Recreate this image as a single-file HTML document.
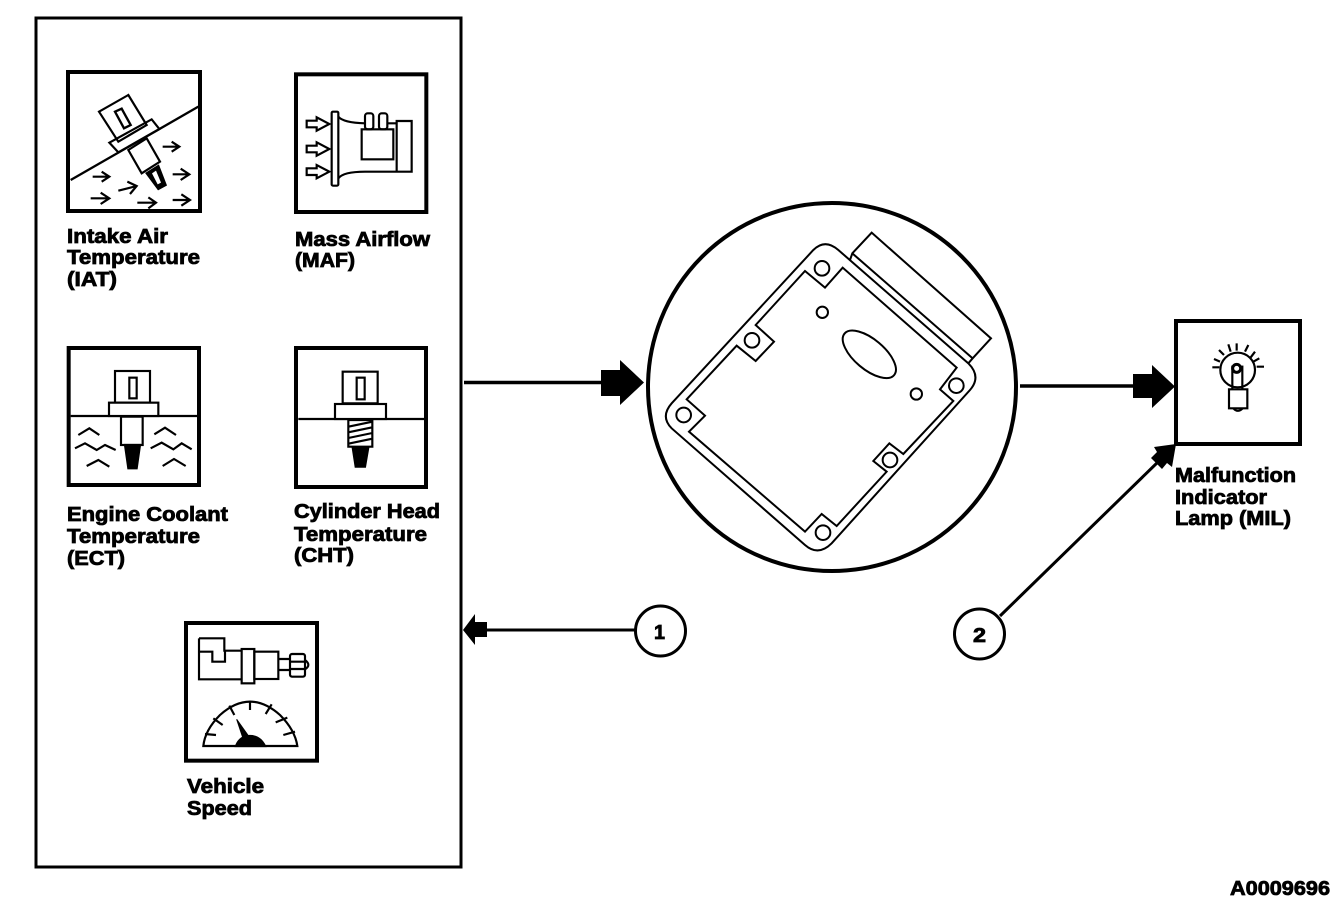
<!DOCTYPE html>
<html><head><meta charset="utf-8"><style>
html,body{margin:0;padding:0;background:#fff}
svg{display:block}
text{font-family:"Liberation Sans",sans-serif;font-weight:bold;font-size:20px;fill:#000;stroke:#000;stroke-width:.8}
</style></head><body>
<svg width="1344" height="918" viewBox="0 0 1344 918" xmlns="http://www.w3.org/2000/svg">
<rect width="1344" height="918" fill="#fff"/>
<rect x="36" y="18" width="425" height="849" fill="none" stroke="#000" stroke-width="3"/>

<!-- IAT + MAF -->
<g transform="translate(50,60) scale(.33333)" fill="none" stroke="#000" stroke-width="6.500">
<rect x="54" y="36" width="396" height="417" stroke-width="12"/>
<path d="M62,360L445,140" stroke-width="7"/>
<path d="M147,155L235,105L290,195L205,245Z M235,270L290,235L330,305L275,340Z M178,248L305,178L328,207L205,277Z" fill="#fff"/>
<path d="M195,155L215,146L242,195L222,205Z" stroke-width="7"/>
<path d="M290,340L325,318L347,375L325,387Z" fill="#000"/>
<path d="M306,340L318,332L333,368L323,373Z" fill="#fff" stroke="none"/>
<path d="M338,260H388M365,245L388,260L365,275M128,350H178M155,335L178,350L155,365M205,392L260,378M232,365L260,378L240,402M122,415H178M152,398L178,415L152,432M262,428H318M295,412L318,428L295,445M368,343H418M392,326L418,343L392,360M368,420H420M394,403L420,420L394,437"/>

<rect x="738" y="43" width="391" height="413" stroke-width="12"/>
<rect x="845" y="155" width="20" height="222" rx="4"/>
<path d="M865,170Q880,188 945,190M1012,190H1040M865,355Q880,335 945,335H1085V183H1040V335"/>
<rect x="935" y="208" width="95" height="90"/>
<rect x="945" y="160" width="25" height="48" rx="8"/>
<rect x="987" y="160" width="25" height="48" rx="8"/>
<path d="M770,182h30v-10l38,20l-38,20v-10h-30zM770,257h30v-10l38,20l-38,20v-10h-30zM770,325h30v-10l38,20l-38,20v-10h-30z"/>
</g>

<!-- ECT + CHT -->
<g transform="translate(50,340) scale(.33333)" fill="none" stroke="#000" stroke-width="6.500">
<rect x="56" y="24" width="391" height="411" stroke-width="12"/>
<path d="M62,228H445"/>
<rect x="195" y="93" width="105" height="95"/>
<rect x="238" y="113" width="22" height="62"/>
<rect x="177" y="188" width="148" height="40" fill="#fff"/>
<rect x="213" y="230" width="65" height="85" fill="#fff"/>
<path d="M225,315L270,315L260,385L235,385Z" fill="#000"/>
<path d="M85,285L118,265L148,285M75,325L105,310L140,330L165,315L197,330M110,378L145,360L178,380M313,283L345,263L378,285M302,325L335,308L370,328L395,310L425,328M338,378L372,357L407,378"/>

<rect x="738" y="24" width="390" height="417" stroke-width="12"/>
<path d="M745,237H1125"/>
<rect x="878" y="95" width="105" height="95"/>
<rect x="920" y="113" width="24" height="65"/>
<rect x="855" y="192" width="153" height="45" fill="#fff"/>
<path d="M895,240V320H967V240M895,240H967M895,260L967,245M895,277L967,262M895,294L967,279M895,311L967,296"/>
<path d="M908,322L955,322L945,380L917,380Z" fill="#000"/>
</g>

<!-- Vehicle speed -->
<g transform="translate(170,610) scale(.33333)" fill="none" stroke="#000" stroke-width="6.500">
<rect x="48" y="39" width="393" height="413" stroke-width="12"/>
<path d="M87,85H163V122H215M87,125H127V155H165V125M87,85V208H215"/>
<rect x="215" y="117" width="38" height="103"/>
<rect x="253" y="125" width="72" height="82"/>
<path d="M325,147H360M325,180H360"/>
<rect x="360" y="132" width="45" height="68" rx="6"/>
<path d="M360,155H405M360,177H405M405,150Q425,165 405,178"/>
<path d="M100,408Q105,360 150,315Q240,235 330,315Q375,360 382,408Z"/>
<path d="M105,372L138,375M130,325L158,345M178,287L193,315M240,275V300M305,283L287,312M352,323L317,337M375,365L340,375"/>
<path d="M200,328L237,380L220,388Z" fill="#000" stroke-width="3"/>
<path d="M198,408Q210,378 240,378Q270,378 285,408Z" fill="#000"/>
</g>

<!-- Module -->
<circle cx="832" cy="387" r="184" fill="#fff" stroke="#000" stroke-width="4"/>
<g transform="translate(640,200) scale(.33333)" fill="none" stroke="#000" stroke-width="6">
<path d="M520,150Q555,115 595,150L985,490Q1025,530 990,570L575,1030Q535,1070 495,1035L95,685Q60,650 95,610Z"/>
<path d="M495,213L555,263L608,203L950,503L900,568L940,603L790,762L748,730L700,783L740,815L590,978L545,942L495,995L147,695L195,647L140,598L290,437L347,483L402,425L347,375Z"/>
<path d="M630,180L637,160L695,98L1053,415L998,475L985,490M637,160L998,475"/>
<circle cx="546" cy="205" r="22"/><circle cx="336" cy="421" r="22"/><circle cx="131" cy="645" r="22"/>
<circle cx="949" cy="557" r="22"/><circle cx="750" cy="780" r="22"/><circle cx="549" cy="998" r="22"/>
<circle cx="547" cy="337" r="17"/><circle cx="829" cy="582" r="17"/>
<ellipse cx="688" cy="463" rx="97" ry="45" transform="rotate(40 688 463)"/>
</g>

<!-- MIL box -->
<rect x="1176" y="321" width="124" height="123" fill="#fff" stroke="#000" stroke-width="4"/>
<g transform="translate(1120,310) scale(.33333)" fill="none" stroke="#000" stroke-width="6.500">
<circle cx="353" cy="180" r="52"/>
<path d="M277,172H298M282,147L300,155M297,120L312,135M325,103L332,125M350,100V122M385,105L375,125M405,125L390,145M418,145L400,155M432,170H410"/>
<rect x="337" y="170" width="30" height="70"/>
<circle cx="350" cy="175" r="12" fill="#fff" stroke-width="9"/>
<path d="M327,238H382V295H327Z" fill="#fff"/>
<path d="M340,295Q353,310 368,295"/>
</g>

<!-- Connectors -->
<path d="M464,382.500H602" stroke="#000" stroke-width="3.500" fill="none"/>
<path d="M601,370H620V360L644,382.500L620,405V396H601Z" fill="#000"/>
<path d="M1020,386H1134" stroke="#000" stroke-width="3.500" fill="none"/>
<path d="M1133,374H1152V365L1175,386.500L1152,408V398H1133Z" fill="#000"/>
<path d="M486,630H635" stroke="#000" stroke-width="3" fill="none"/>
<path d="M487,622H475V614L463,630L475,645V637H487Z" fill="#000"/>
<path d="M1000,616L1160,460" stroke="#000" stroke-width="3" fill="none"/>
<path d="M1176,444L1154,447L1157,452L1151,458L1162,469L1167,463L1172,467Z" fill="#000"/>
<circle cx="660.500" cy="631" r="25" fill="#fff" stroke="#000" stroke-width="3"/>
<circle cx="979.500" cy="634" r="25" fill="#fff" stroke="#000" stroke-width="3"/>
<text x="654" y="639" textLength="11" lengthAdjust="spacingAndGlyphs">1</text>
<text x="973" y="642" textLength="13" lengthAdjust="spacingAndGlyphs">2</text>

<!-- Labels -->
<text x="67" y="243" textLength="101" lengthAdjust="spacingAndGlyphs">Intake Air</text>
<text x="67" y="264" textLength="133" lengthAdjust="spacingAndGlyphs">Temperature</text>
<text x="67" y="286" textLength="50" lengthAdjust="spacingAndGlyphs">(IAT)</text>
<text x="295" y="246" textLength="135" lengthAdjust="spacingAndGlyphs">Mass Airflow</text>
<text x="295" y="267" textLength="60" lengthAdjust="spacingAndGlyphs">(MAF)</text>
<text x="67" y="521" textLength="161" lengthAdjust="spacingAndGlyphs">Engine Coolant</text>
<text x="67" y="543" textLength="133" lengthAdjust="spacingAndGlyphs">Temperature</text>
<text x="67" y="565" textLength="58" lengthAdjust="spacingAndGlyphs">(ECT)</text>
<text x="294" y="518" textLength="146" lengthAdjust="spacingAndGlyphs">Cylinder Head</text>
<text x="294" y="541" textLength="133" lengthAdjust="spacingAndGlyphs">Temperature</text>
<text x="294" y="562" textLength="60" lengthAdjust="spacingAndGlyphs">(CHT)</text>
<text x="187" y="793" textLength="77" lengthAdjust="spacingAndGlyphs">Vehicle</text>
<text x="187" y="815" textLength="65" lengthAdjust="spacingAndGlyphs">Speed</text>
<text x="1175" y="482" textLength="121" lengthAdjust="spacingAndGlyphs">Malfunction</text>
<text x="1175" y="504" textLength="92" lengthAdjust="spacingAndGlyphs">Indicator</text>
<text x="1175" y="525" textLength="116" lengthAdjust="spacingAndGlyphs">Lamp (MIL)</text>
<text x="1230" y="895" textLength="100" lengthAdjust="spacingAndGlyphs">A0009696</text>
</svg>
</body></html>
